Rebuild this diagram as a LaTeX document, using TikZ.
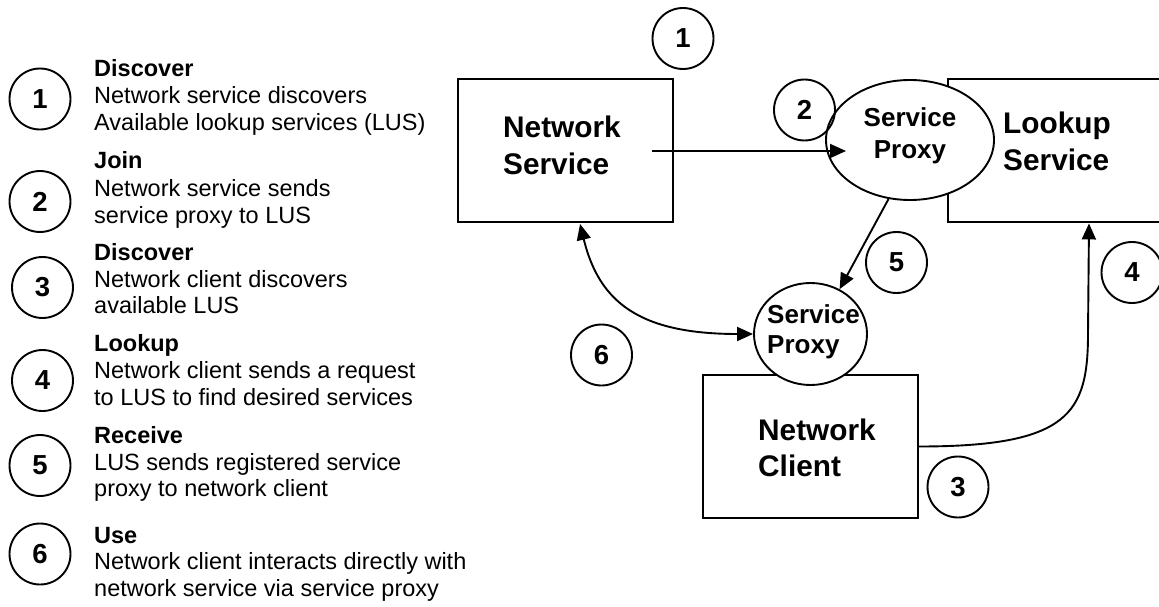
\documentclass[tikz,border=0pt]{standalone}
\usepackage{fontspec}
\setmainfont{Liberation Sans}
\usetikzlibrary{arrows.meta,shapes.geometric,calc}
\newcommand\lgfont{\fontsize{23.5}{26.7}\selectfont}
\newcommand\lgbold{\fontsize{23.5}{26.7}\selectfont\bfseries}
\newcommand\bxfont{\fontsize{29.8}{36}\selectfont\bfseries}
\newcommand\elfont{\fontsize{26}{31}\selectfont\bfseries}
\newcommand\nmfont{\fontsize{27.5}{30}\selectfont\bfseries}
\tikzset{
  ln/.style={line width=1.9pt},
  numc/.style={circle,draw,ln,minimum size=61pt,inner sep=0pt,font=\nmfont},
  box/.style={rectangle,draw,ln,inner sep=0pt},
  prox/.style={ellipse,draw,ln,fill=white,inner sep=0pt},
  lg/.style={anchor=base west,inner sep=0pt,font=\lgfont},
  lgh/.style={anchor=base west,inner sep=0pt,font=\lgbold},
  bl/.style={anchor=base west,inner sep=0pt,font=\bxfont},
  el/.style={inner sep=0pt,font=\elfont},
  arr/.style={ln,-{Triangle[length=16pt,width=14pt]}},
  darr/.style={ln,{Triangle[length=16pt,width=14pt]}-{Triangle[length=16pt,width=14pt]}},
}
\begin{document}
\begin{tikzpicture}[x=1pt,y=-1pt]
\path[use as bounding box,clip] (0,0) rectangle (1159,607);
\fill[white] (0,0) rectangle (1159,607);
% legend
\node[numc] (c1) at (40,99) {1};
\node[numc] (c2) at (40,201.5) {2};
\node[numc] (c3) at (42.5,287.5) {3};
\node[numc] (c4) at (42.5,380.5) {4};
\node[numc] (c5) at (40,465.5) {5};
\node[numc] (c6) at (40,554) {6};
\node[lgh] (h1) at (94,76.7) {Discover};
\node[lg] (t1a) at (94,104) {Network service discovers};
\node[lg] (t1b) at (94,130.5) {Available lookup services (LUS)};
\node[lgh] (h2) at (94,168) {Join};
\node[lg] (t2a) at (94,196.5) {Network service sends};
\node[lg] (t2b) at (94,223) {service proxy to LUS};
\node[lgh] (h3) at (94,260) {Discover};
\node[lg] (t3a) at (94,287) {Network client discovers};
\node[lg] (t3b) at (94,313.5) {available LUS};
\node[lgh] (h4) at (94,351.5) {Lookup};
\node[lg] (t4a) at (94,378.5) {Network client sends a request};
\node[lg] (t4b) at (94,405) {to LUS to find desired services};
\node[lgh] (h5) at (94,443) {Receive};
\node[lg] (t5a) at (94,470) {LUS sends registered service};
\node[lg] (t5b) at (94,496.5) {proxy to network client};
\node[lgh] (h6) at (94,543) {Use};
\node[lg] (t6a) at (94,569.5) {Network client interacts directly with};
\node[lg] (t6b) at (94,596) {network service via service proxy};
% boxes
\node[box,minimum width=215pt,minimum height=143pt] (ns) at (565.5,150.5) {};
\node[bl] (nsl1) at (503,138) {Network};
\node[bl] (nsl2) at (503,175) {Service};
\node[box,minimum width=252pt,minimum height=143pt] (ls) at (1074,150.5) {};
\node[bl] (lsl1) at (1003,134) {Lookup};
\node[bl] (lsl2) at (1003,170) {Service};
\node[box,minimum width=215pt,minimum height=143pt] (nc) at (810.5,446.5) {};
\node[bl] (ncl1) at (758,440) {Network};
\node[bl] (ncl2) at (758,476) {Client};
% proxies
\node[prox,minimum width=168pt,minimum height=120pt] (sp1) at (910,140) {};
\node[el,anchor=base] (sp1a) at (910,127) {Service};
\node[el,anchor=base] (sp1b) at (910,158) {Proxy};
\node[prox,minimum width=113pt,minimum height=102pt] (sp2) at (810.5,334) {};
\node[el,anchor=base west] (sp2a) at (767,323) {Service};
\node[el,anchor=base west] (sp2b) at (767,353) {Proxy};
% diagram number circles
\node[numc] (d1) at (683,38.5) {1};
\node[numc] (d2) at (804.5,110) {2};
\node[numc] (d5) at (896.5,262.5) {5};
\node[numc] (d6) at (601.5,355) {6};
\node[numc] (d4) at (1132,272.5) {4};
\node[numc] (d3) at (958,487) {3};
% connectors
\coordinate (a2s) at ($(ns.center)+(86.5,0.5)$);
\coordinate (a2e) at ($(sp1.center)+(-64,11)$);
\draw[arr] (a2s) -- (a2e);
\draw[arr] (sp1.-110) -- (sp2.57);
\coordinate (a6s) at ($(ns.south west)+(123,1)$);
\draw[darr] (a6s) .. controls +(19,78) and +(-114,0) .. (sp2.west);
\coordinate (a4e) at ($(ls.south)+(15,0.5)$);
\coordinate (a4m) at ($(a4e)+(-1,110)$);
\draw[arr] (nc.east) .. controls +(150,0) and +(0,80) .. (a4m) -- (a4e);
\end{tikzpicture}
\end{document}
